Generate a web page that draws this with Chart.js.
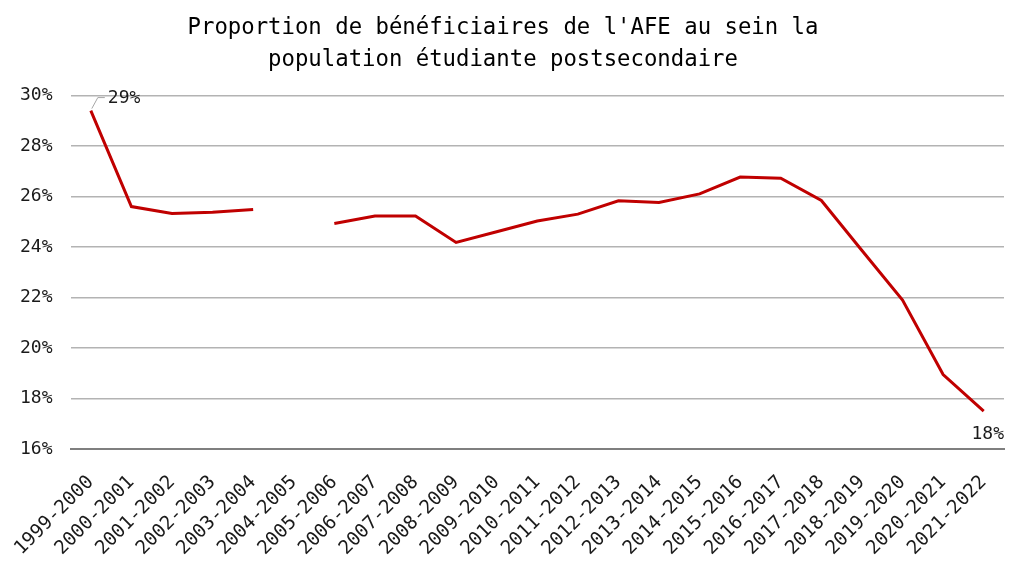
<!DOCTYPE html>
<html>
<head>
<meta charset="utf-8">
<script src="https://cdn.jsdelivr.net/npm/chart.js@4"></script>
<style>
  body { margin: 0; background: #fff; }
  #wrap { width: 1022px; height: 564px; }
</style>
</head>
<body>
<div id="wrap"><canvas id="afeChart"></canvas></div>
<script>
const years = ['1999-2000', '2000-2001', '2001-2002', '2002-2003', '2003-2004', '2004-2005',
    '2005-2006', '2006-2007', '2007-2008', '2008-2009', '2009-2010', '2010-2011', '2011-2012',
    '2012-2013', '2013-2014', '2014-2015', '2015-2016', '2016-2017', '2017-2018', '2018-2019',
    '2019-2020', '2020-2021', '2021-2022'];
// proportion (%) - no value for 2004-2005
const share = [29.4, 25.6, 25.33, 25.37, 25.48, null,
    24.93, 25.23, 25.23, 24.18, 24.6, 25.03, 25.3,
    25.83, 25.76, 26.1, 26.77, 26.72, 25.84, 23.86,
    21.9, 18.95, 17.5];
const yTicks = [16, 18, 20, 22, 24, 26, 28, 30];

const labelFont = '"DejaVu Sans Mono"';

// labels on first and last points
const endLabels = {
    id: 'endLabels',
    afterDatasetsDraw(chart) {
        const ctx = chart.ctx;
        const pts = chart.getDatasetMeta(0).data;
        const first = pts[0], last = pts[pts.length - 1];
        ctx.save();
        ctx.strokeStyle = '#a6a6a6';
        ctx.lineWidth = 1;
        ctx.beginPath();
        ctx.moveTo(first.x + 1, first.y - 2);
        ctx.lineTo(first.x + 7, first.y - 13);
        ctx.lineTo(first.x + 14, first.y - 13);
        ctx.stroke();
        ctx.fillStyle = '#1a1a1a';
        ctx.font = '18px ' + labelFont;
        ctx.textBaseline = 'middle';
        ctx.textAlign = 'left';
        ctx.fillText(Math.round(share[0]) + '%', first.x + 17, first.y - 12);
        ctx.textAlign = 'center';
        ctx.fillText(Math.round(share[share.length - 1]) + '%', last.x + 4, last.y + 23);
        ctx.restore();
    }
};

new Chart(document.getElementById('afeChart'), {
    type: 'line',
    data: {
        labels: years,
        datasets: [{
            data: share,
            borderColor: '#c00000',
            borderWidth: 3,
            pointRadius: 0,
            tension: 0,
            spanGaps: false
        }]
    },
    options: {
        responsive: true,
        maintainAspectRatio: false,
        animation: false,
        layout: { padding: { left: 2, right: 18, top: 3, bottom: 0 } },
        plugins: {
            legend: { display: false },
            tooltip: { enabled: false },
            title: {
                display: true,
                text: ["Proportion de bénéficiaires de l'AFE au sein la", 'population étudiante postsecondaire'],
                color: '#000',
                font: { family: '"DejaVu Sans Mono"', size: 22.3, weight: 'normal', lineHeight: 1.4 },
                padding: { top: 10, bottom: 20 }
            }
        },
        scales: {
            x: {
                offset: true,
                grid: { display: false, drawTicks: false },
                border: { color: '#7f7f7f', width: 2 },
                afterFit(axis) { axis.paddingLeft = 0; axis.paddingRight = 0; axis.height = 115; },
                ticks: {
                    color: '#1a1a1a',
                    font: { family: labelFont, size: 19 },
                    maxRotation: 45,
                    minRotation: 45,
                    autoSkip: false,
                    padding: 22
                }
            },
            y: {
                min: 16,
                max: 30,
                afterBuildTicks(axis) { axis.ticks = yTicks.map(v => ({ value: v })); },
                grid: { color: '#b3b3b3', lineWidth: 1.5, drawTicks: false },
                border: { display: false },
                ticks: {
                    color: '#1a1a1a',
                    font: { family: labelFont, size: 18 },
                    padding: 18,
                    callback: v => v + '%'
                }
            }
        }
    },
    plugins: [endLabels]
});
</script>
</body>
</html>
